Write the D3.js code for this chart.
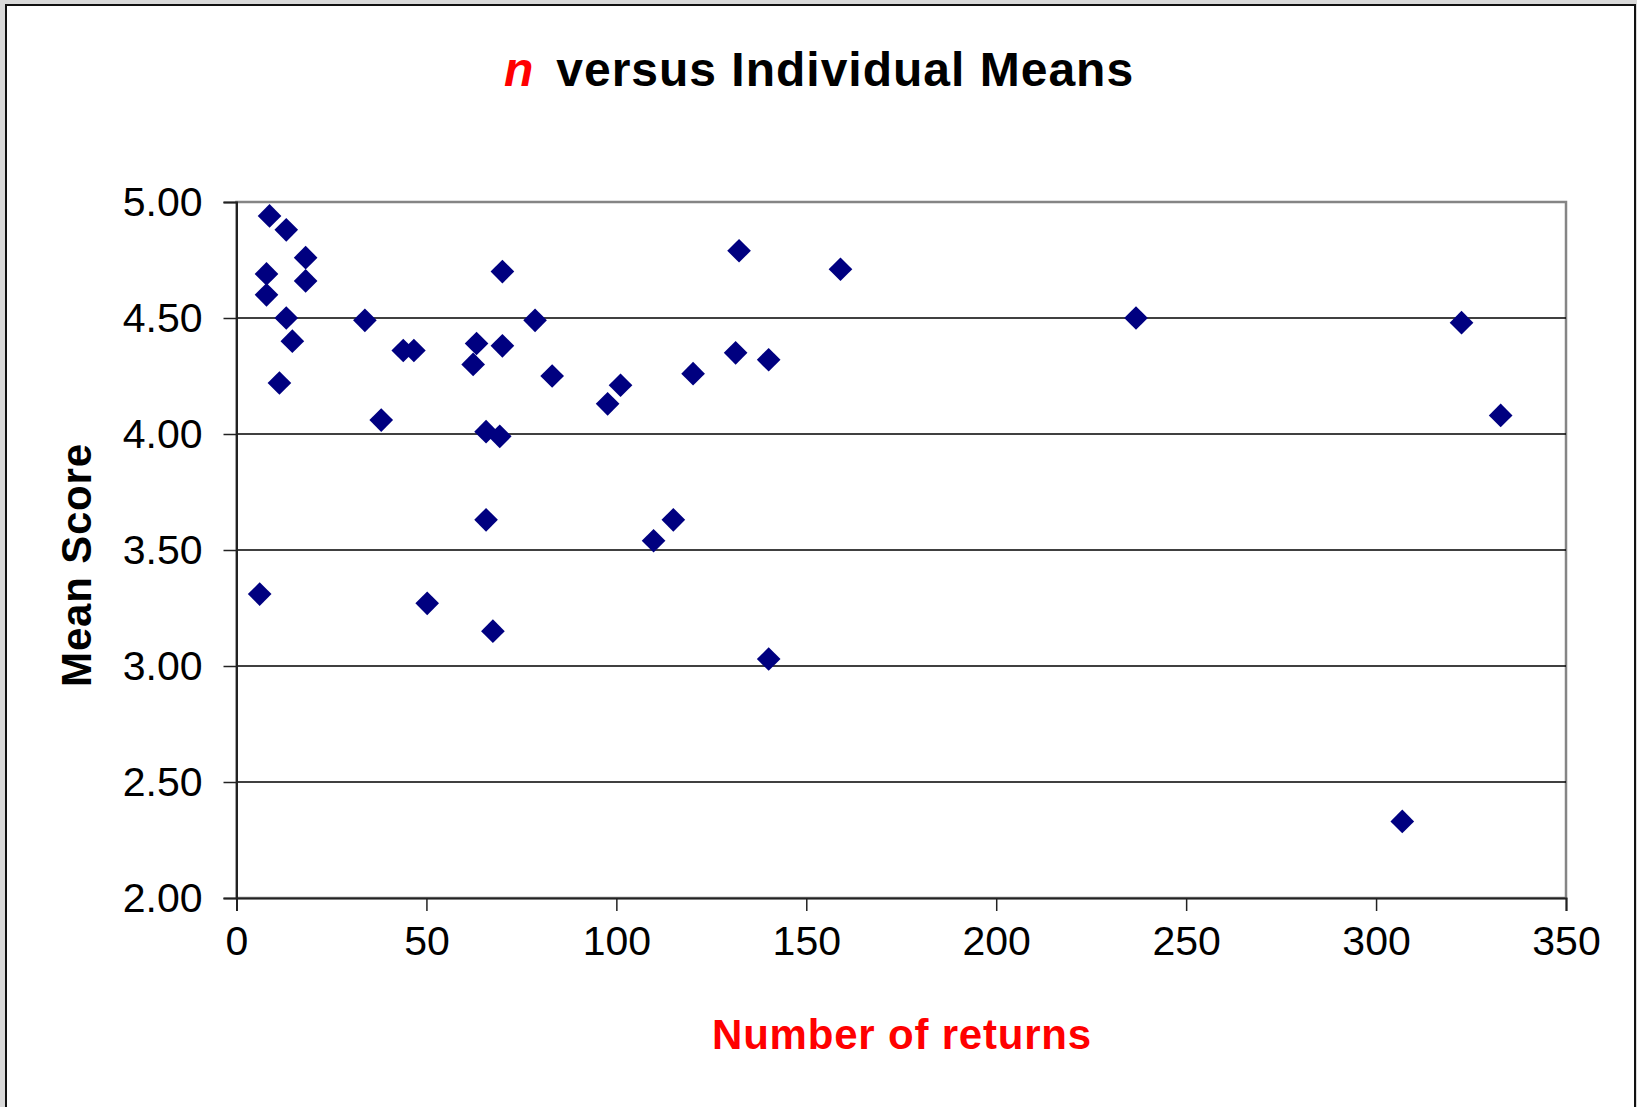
<!DOCTYPE html>
<html>
<head>
<meta charset="utf-8">
<script src="https://cdn.jsdelivr.net/npm/d3@7"></script>
<style>
  html, body { margin: 0; padding: 0; background: #d9d9d9; overflow: hidden; }
  svg { display: block; font-family: "Liberation Sans", Arial, sans-serif; }
  .tick text { font-size: 41px; fill: #000; }
  .grid line { stroke: #000; stroke-width: 1.5; }
</style>
</head>
<body>
<svg width="1637" height="1107"></svg>
<script>
// data
const returns = [8.7, 13.1, 18.2, 7.9, 18.2, 7.9, 13.1, 14.7, 11.3, 6.1,
  33.8, 43.9, 46.7, 38.1, 50.2, 70.0, 63.2, 62.3, 70.0, 78.6,
  83.1, 65.7, 69.3, 65.7, 67.5, 97.7, 101.1, 120.2, 131.4, 132.3,
  140.1, 159.0, 115.0, 109.8, 140.1, 236.8, 322.5, 332.8, 306.9];
const means = [4.94, 4.88, 4.76, 4.69, 4.66, 4.60, 4.50, 4.40, 4.22, 3.31,
  4.49, 4.36, 4.36, 4.06, 3.27, 4.70, 4.39, 4.30, 4.38, 4.49,
  4.25, 4.01, 3.99, 3.63, 3.15, 4.13, 4.21, 4.26, 4.35, 4.79,
  4.32, 4.71, 3.63, 3.54, 3.03, 4.50, 4.48, 4.08, 2.33];
const xTicks = [0, 50, 100, 150, 200, 250, 300, 350];
const yTicks = [2.0, 2.5, 3.0, 3.5, 4.0, 4.5, 5.0];

// define constants
const svg = d3.select("svg");
const width = +svg.attr("width");
const height = +svg.attr("height");
const margin = { top: 202, right: 71, bottom: 209, left: 236.5 };
const plotW = width - margin.left - margin.right;
const plotH = height - margin.top - margin.bottom;

// framed white panel on the grey slide
svg.append("rect")
  .attr("x", 6).attr("y", 5)
  .attr("width", 1629).attr("height", 1120)
  .attr("fill", "#fff")
  .attr("stroke", "#111")
  .attr("stroke-width", 2);

const x = d3.scaleLinear().domain([0, 350]).range([0, plotW]);
const y = d3.scaleLinear().domain([2, 5]).range([plotH, 0]);

const g = svg.append("g")
  .attr("transform", `translate(${margin.left},${margin.top})`);

// plot area border (grey on top / right)
g.append("rect")
  .attr("width", plotW).attr("height", plotH)
  .attr("fill", "none")
  .attr("stroke", "#858585")
  .attr("stroke-width", 2.5);

// horizontal gridlines
g.append("g")
  .attr("class", "grid")
  .selectAll("line")
  .data(yTicks.slice(1, -1))
  .enter().append("line")
    .attr("x1", 0).attr("x2", plotW)
    .attr("y1", (d) => y(d)).attr("y2", (d) => y(d));

// axes
const yAxis = g.append("g")
  .call(d3.axisLeft(y).tickValues(yTicks).tickFormat(d3.format(".2f")).tickSize(13).tickPadding(21));
const xAxis = g.append("g")
  .attr("transform", `translate(0,${plotH})`)
  .call(d3.axisBottom(x).tickValues(xTicks).tickSize(13).tickPadding(14));

[yAxis, xAxis].forEach((ax) => {
  ax.select(".domain").attr("stroke", "#222").attr("stroke-width", 2);
  ax.selectAll(".tick line").attr("stroke", "#222").attr("stroke-width", 1.5);
  ax.selectAll("text").attr("font-family", null);
});
yAxis.selectAll(".tick text").attr("dy", "0.34em");
xAxis.selectAll(".tick text").attr("dy", "0.72em");

// diamonds
const diamond = d3.symbol().type(d3.symbolSquare).size(280);
g.append("g")
  .selectAll("path")
  .data(returns.map((r, i) => ({ r, m: means[i] })))
  .enter().append("path")
    .attr("d", diamond)
    .attr("transform", (d) => `translate(${x(d.r)},${y(d.m)}) rotate(45)`)
    .attr("fill", "#000080");

// title
const title = svg.append("text")
  .attr("x", 819)
  .attr("y", 86)
  .attr("text-anchor", "middle")
  .attr("font-size", 48)
  .attr("font-weight", "bold")
  .attr("letter-spacing", 1);
title.append("tspan")
  .attr("fill", "#ff0000")
  .attr("font-style", "italic")
  .text("n");
title.append("tspan")
  .attr("dx", 22)
  .attr("fill", "#000")
  .text("versus Individual Means");

// axis titles
svg.append("text")
  .attr("transform", "translate(91,565) rotate(-90)")
  .attr("text-anchor", "middle")
  .attr("font-size", 42)
  .attr("font-weight", "bold")
  .attr("letter-spacing", 0.8)
  .text("Mean Score");

svg.append("text")
  .attr("x", 902)
  .attr("y", 1049)
  .attr("text-anchor", "middle")
  .attr("font-size", 42)
  .attr("font-weight", "bold")
  .attr("letter-spacing", 0.8)
  .attr("fill", "#ff0000")
  .text("Number of returns");
</script>
</body>
</html>
